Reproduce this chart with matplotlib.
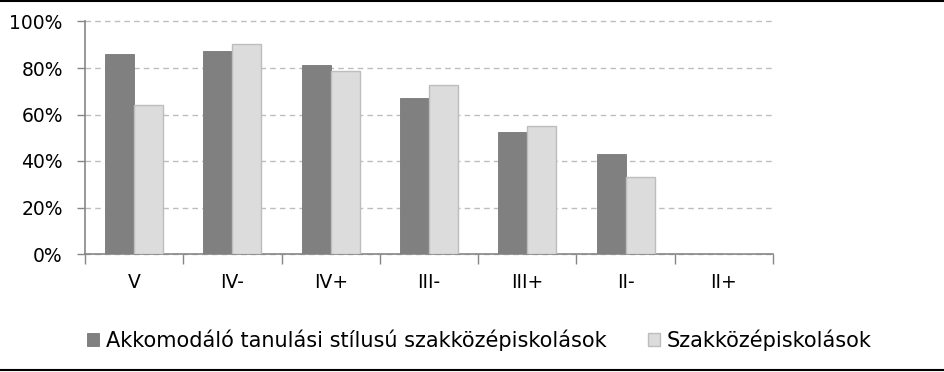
import numpy as np
import matplotlib
matplotlib.use("Agg")
import matplotlib.pyplot as plt
from matplotlib.lines import Line2D
from matplotlib.ticker import FuncFormatter, FixedLocator

# --- adatok
categories = ["V", "IV-", "IV+", "III-", "III+", "II-", "II+"]
akkomodalo = [86, 87.5, 81.5, 67, 52.5, 43, 0]
szakkozep = [64, 90.5, 78.5, 72.5, 55, 33, 0]
series_names = ["Akkomodáló tanulási stílusú szakközépiskolások", "Szakközépiskolások"]

fig = plt.figure(figsize=(9.45, 3.72), dpi=100)
ax = fig.add_axes([85 / 945, 118 / 372, (773 - 85) / 945, (254 - 21.5) / 372])

x = np.arange(len(categories))
w = 0.295
ax.bar(x - w / 2, akkomodalo, w, color="#808080", edgecolor="#787878", linewidth=0.6,
       label=series_names[0], zorder=3)
ax.bar(x + w / 2, szakkozep, w, color="#dcdcdc", edgecolor="#bdbdbd", linewidth=1.0,
       label=series_names[1], zorder=3)

ax.set_xlim(-0.5, len(categories) - 0.5)
ax.set_ylim(0, 100)
ax.set_yticks(range(0, 101, 20))
ax.yaxis.set_major_formatter(FuncFormatter(lambda v, p: f"{int(v)}%"))
ax.grid(axis="y", color="#bdbdbd", linestyle=(0, (4, 3)), linewidth=1.0, zorder=0)
for gl in ax.get_ygridlines():
    gl.set_clip_on(False)

ax.set_xticks(x)
ax.set_xticklabels(categories, fontsize=13.5)
ax.tick_params(axis="x", length=0, pad=14)
ax.xaxis.set_minor_locator(FixedLocator(np.arange(-0.5, len(categories), 1)))
ax.tick_params(axis="x", which="minor", length=7, color="#868686", width=1)
ax.tick_params(axis="y", length=6, color="#868686", width=1, labelsize=13.5, pad=10)

for s in ["top", "right"]:
    ax.spines[s].set_visible(False)
for s in ["left", "bottom"]:
    ax.spines[s].set_color("#868686")
    ax.spines[s].set_linewidth(1.2)

leg = fig.legend(loc="center", bbox_to_anchor=(0.507, 1 - 340 / 372), ncol=2,
                 frameon=False, handlelength=0.6, handleheight=0.6, handletextpad=0.3,
                 columnspacing=2.0, prop={"size": 15})

# vízszintes keretvonalak
fig.add_artist(Line2D([0, 1], [1 - 1 / 372, 1 - 1 / 372], color="black", lw=1.5))
fig.add_artist(Line2D([0, 1], [1 - 370 / 372, 1 - 370 / 372], color="black", lw=1.5))

fig.savefig("out.png", dpi=100)
